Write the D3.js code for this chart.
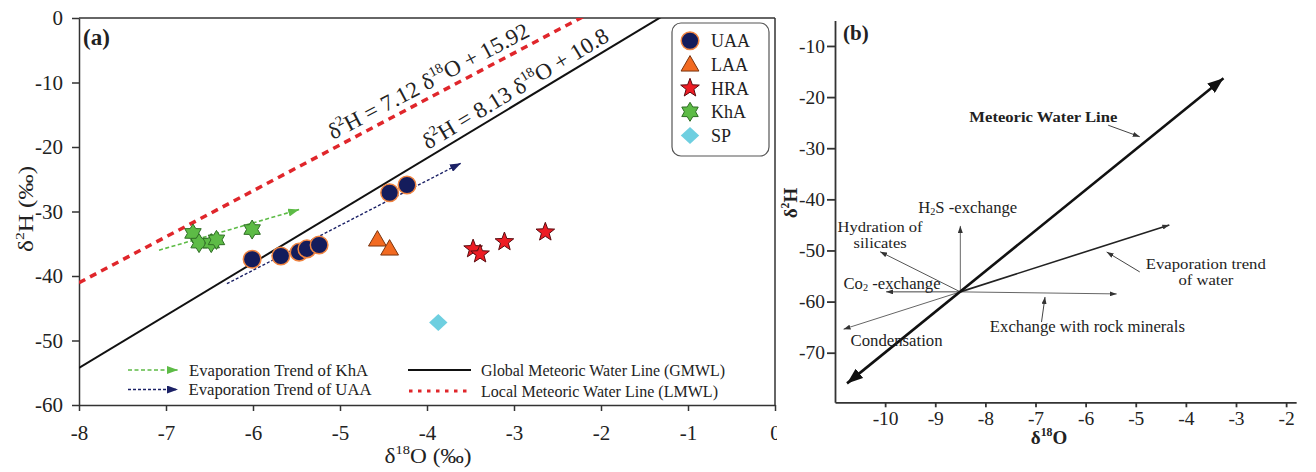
<!DOCTYPE html>
<html><head><meta charset="utf-8">
<script src="https://cdn.jsdelivr.net/npm/d3@7"></script>
<style>
body{margin:0;background:#fff}
svg{display:block}
text{font-family:"Liberation Serif","Times New Roman",serif;fill:#222}
</style>
</head><body>
<svg id="c" width="1316" height="472"></svg>
<script>
// ---------------- Panel (a) data ----------------
const uaaX = [-6.01, -5.68, -5.47, -5.38, -5.24, -4.43, -4.23];
const uaaY = [-37.4, -36.9, -36.3, -35.8, -35.2, -27.1, -25.9];
const laaX = [-4.57, -4.43];
const laaY = [-34.4, -35.8];
const hraX = [-3.47, -3.39, -3.11, -2.64];
const hraY = [-35.8, -36.6, -34.7, -33.2];
const khaX = [-6.69, -6.62, -6.48, -6.42, -6.01];
const khaY = [-33.4, -34.9, -34.9, -34.4, -32.8];
const spX = [-3.87];
const spY = [-47.2];
const gmwl = {slope: 8.13, intercept: 10.8};
const lmwl = {slope: 7.12, intercept: 15.92};
const khaTrend = [[-7.08, -36.0], [-5.47, -29.7]];
const uaaTrend = [[-6.30, -41.2], [-3.61, -22.5]];
const aXTicks = [-8, -7, -6, -5, -4, -3, -2, -1, 0];
const aYTicks = [0, -10, -20, -30, -40, -50, -60];
const seriesNames = ["UAA", "LAA", "HRA", "KhA", "SP"];

// ---------------- Panel (b) data ----------------
const bCenter = [-8.5, -58.1];
const mwlLine = [[-10.76, -76.0], [-3.25, -16.3]];
const evapEnd = [-4.33, -45.0];
const condEnd = [-10.83, -65.4];
const rockEnd = [-5.38, -58.5];
const co2End = [-9.98, -58.1];
const h2sEnd = [-8.5, -45.2];
const hydrEnd = [-10.1, -50.25];
const bXTicks = [-10, -9, -8, -7, -6, -5, -4, -3, -2];
const bYTicks = [-10, -20, -30, -40, -50, -60, -70];
const bLabels = [
  {parts: [["Meteoric Water Line"]], x: -8.32, y: -24.8, bold: true, anchor: "start", w: 148, fs: 15.5},
  {parts: [["H"], ["2", "sub"], ["S -exchange"]], x: -9.34, y: -42.7, anchor: "start", w: 99, fs: 16},
  {parts: [["Hydration of"]], x: -10.10, y: -46.4, anchor: "middle", w: 85, fs: 14.5},
  {parts: [["silicates"]], x: -10.10, y: -49.6, anchor: "middle", w: 53, fs: 14.5},
  {parts: [["Co"], ["2", "sub"], [" -exchange"]], x: -10.83, y: -57.5, anchor: "start", w: 97, fs: 16},
  {parts: [["Evaporation trend"]], x: -4.80, y: -53.6, anchor: "start", w: 120, fs: 14.5},
  {parts: [["of water"]], x: -3.60, y: -56.8, anchor: "middle", w: 55, fs: 14.5},
  {parts: [["Exchange with rock minerals"]], x: -7.91, y: -66.0, anchor: "start", w: 195, fs: 16},
  {parts: [["Condensation"]], x: -10.69, y: -68.6, anchor: "start", w: 92, fs: 16}
];
const bPointers = [
  [[-5.55, -25.5], [-4.92, -27.75]],
  [[-4.92, -54.2], [-5.58, -50.3]],
  [[-6.88, -64.0], [-6.81, -59.1]]
];

// ---------------- setup ----------------
const svg = d3.select("#c");
const defs = svg.append("defs");
function addMarker(id, color, len, wid) {
  defs.append("marker").attr("id", id)
    .attr("viewBox", `0 ${-wid/2} ${len} ${wid}`)
    .attr("refX", len).attr("refY", 0)
    .attr("markerWidth", len).attr("markerHeight", wid)
    .attr("markerUnits", "userSpaceOnUse")
    .attr("orient", "auto-start-reverse")
    .append("path").attr("d", `M0,${-wid/2}L${len},0L0,${wid/2}Z`).attr("fill", color);
}
addMarker("arG", "#5dbb46", 11, 8);
addMarker("arN", "#1b2166", 11, 8);
addMarker("arBig", "#111", 16, 12);
addMarker("arSm", "#333", 7, 5);

function rich(t, parts, size, w) {
  let shift = 0;
  parts.forEach(([s, k]) => {
    const ts = t.append("tspan").text(s);
    const target = k === "sup" ? -0.42 * size : k === "sub" ? 0.12 * size : 0;
    if (target - shift !== 0) ts.attr("dy", target - shift);
    shift = target;
    if (k) ts.attr("font-size", size * 0.62);
  });
  if (w) t.attr("textLength", w).attr("lengthAdjust", "spacingAndGlyphs");
}
function polyPath(n, rOut, rIn) {
  const pts = [];
  const m = rIn == null ? n : 2 * n;
  for (let i = 0; i < m; i++) {
    const r = rIn == null ? rOut : (i % 2 === 0 ? rOut : rIn);
    const a = -Math.PI / 2 + i * 2 * Math.PI / m;
    pts.push([r * Math.cos(a), r * Math.sin(a)]);
  }
  return "M" + pts.map(p => p[0].toFixed(2) + "," + p[1].toFixed(2)).join("L") + "Z";
}
const shapes = {
  UAA: {d: null, fill: "#141c5c", stroke: "#f08440", sw: 1.5},
  LAA: {d: polyPath(3, 10.3), fill: "#f26a21", stroke: "#7a3510", sw: 1},
  HRA: {d: polyPath(5, 9.8, 4.1), fill: "#ed1c24", stroke: "#5a0c10", sw: 1},
  KhA: {d: polyPath(6, 9.5, 5.6), fill: "#5dbb46", stroke: "#2f6e25", sw: 1},
  SP: {d: "M0,-8.5L9.2,0L0,8.5L-9.2,0Z", fill: "#6ecfe0", stroke: "none", sw: 0}
};
function drawMark(g, name, px, py) {
  const s = shapes[name];
  if (name === "UAA") {
    g.append("circle").attr("cx", px).attr("cy", py).attr("r", 8.8)
      .attr("fill", s.fill).attr("stroke", s.stroke).attr("stroke-width", s.sw);
  } else {
    g.append("path").attr("d", s.d).attr("transform", `translate(${px},${py})`)
      .attr("fill", s.fill).attr("stroke", s.stroke).attr("stroke-width", s.sw)
      .attr("stroke-linejoin", "round");
  }
}

// ---------------- Panel (a) ----------------
defs.append("clipPath").attr("id", "clipA").append("rect").attr("x", 0).attr("y", 0).attr("width", 777).attr("height", 472);
const A = svg.append("g").attr("clip-path", "url(#clipA)");
const ax = d3.scaleLinear().domain([-8, 0]).range([79, 775]);
const ay = d3.scaleLinear().domain([-60, 0]).range([405, 18]);
defs.append("clipPath").attr("id", "plotA").append("rect")
  .attr("x", ax(-8)).attr("y", ay(0)).attr("width", ax(0) - ax(-8)).attr("height", ay(-60) - ay(0));

const xAxA = A.append("g").attr("transform", `translate(0,${ay(-60)})`)
  .call(d3.axisBottom(ax).tickValues(aXTicks).tickFormat(d => String(d)).tickSize(6).tickSizeOuter(0).tickPadding(14));
const yAxA = A.append("g").attr("transform", `translate(${ax(-8)},0)`)
  .call(d3.axisLeft(ay).tickValues(aYTicks).tickFormat(d => String(d)).tickSize(7).tickSizeOuter(0).tickPadding(9));
[xAxA, yAxA].forEach(g => {
  g.selectAll("text").attr("font-size", 21).attr("font-family", "Liberation Serif").attr("fill", "#222");
  g.selectAll("line,path").attr("stroke", "#333").attr("stroke-width", 1.5);
});
A.append("line").attr("x1", ax(-8)).attr("x2", ax(0)).attr("y1", ay(0)).attr("y2", ay(0)).attr("stroke", "#333").attr("stroke-width", 1.5);
A.append("line").attr("x1", ax(0)).attr("x2", ax(0)).attr("y1", ay(0)).attr("y2", ay(-60)).attr("stroke", "#333").attr("stroke-width", 1.5);

const P = A.append("g").attr("clip-path", "url(#plotA)");
const lineGen = d3.line().x(d => ax(d[0])).y(d => ay(d[1]));
function wl(o) { return [-8, 0].map(x => [x, o.slope * x + o.intercept]); }
P.append("path").attr("d", lineGen(wl(lmwl))).attr("fill", "none").attr("stroke", "#e0262b").attr("stroke-width", 3.5).attr("stroke-dasharray", "7,5.5");
P.append("path").attr("d", lineGen(wl(gmwl))).attr("fill", "none").attr("stroke", "#111").attr("stroke-width", 2);
P.append("path").attr("d", lineGen(khaTrend)).attr("fill", "none").attr("stroke", "#5dbb46").attr("stroke-width", 1.6).attr("stroke-dasharray", "4,2.5").attr("marker-end", "url(#arG)");
P.append("path").attr("d", lineGen(uaaTrend)).attr("fill", "none").attr("stroke", "#1b2166").attr("stroke-width", 1.4).attr("stroke-dasharray", "3,2").attr("marker-end", "url(#arN)");

function eq(o, xd, off, parts, w) {
  const ang = Math.atan(o.slope * (ay(-60) - ay(0)) / 60 / ((ax(0) - ax(-8)) / 8)) * 180 / Math.PI;
  const t = A.append("text").attr("font-size", 22.5)
    .attr("transform", `translate(${ax(xd)},${ay(o.slope * xd + o.intercept)}) rotate(${-ang})`)
    .attr("y", -off);
  rich(t, parts, 22.5, w);
}
eq(lmwl, -5.04, 7.6, [["δ"], ["2", "sup"], ["H = 7.12 δ"], ["18", "sup"], ["O + 15.92"]], 224);
eq(gmwl, -3.95, 6.4, [["δ"], ["2", "sup"], ["H = 8.13 δ"], ["18", "sup"], ["O + 10.8"]], 213);

uaaX.forEach((x, i) => drawMark(P, "UAA", ax(x), ay(uaaY[i])));
laaX.forEach((x, i) => drawMark(P, "LAA", ax(x), ay(laaY[i]) + 1));
hraX.forEach((x, i) => drawMark(P, "HRA", ax(x), ay(hraY[i])));
khaX.forEach((x, i) => drawMark(P, "KhA", ax(x), ay(khaY[i])));
spX.forEach((x, i) => drawMark(P, "SP", ax(x), ay(spY[i])));

A.append("text").attr("x", 83).attr("y", 45).attr("font-size", 23).attr("font-weight", "bold").text("(a)");
const xlA = A.append("text").attr("x", 428).attr("y", 463).attr("font-size", 21).attr("text-anchor", "middle");
rich(xlA, [["δ"], ["18", "sup"], ["O (‰)"]], 21, 87);
const ylA = A.append("text").attr("transform", "translate(33,209) rotate(-90)").attr("font-size", 21).attr("text-anchor", "middle");
rich(ylA, [["δ"], ["2", "sup"], ["H (‰)"]], 21, 86);

const L = A.append("g");
L.append("rect").attr("x", 672).attr("y", 23).attr("width", 97).attr("height", 133).attr("rx", 9)
  .attr("fill", "#fff").attr("stroke", "#555").attr("stroke-width", 1.2);
seriesNames.forEach((n, i) => {
  const yy = 40.7 + i * 23.7;
  drawMark(L, n, 690, yy + (n === "LAA" ? 1.5 : 0));
  L.append("text").attr("x", 711).attr("y", yy + 6.5).attr("font-size", 18).text(n);
});

const LL = A.append("g");
function legText(x, y, size, w, s) {
  LL.append("text").attr("x", x).attr("y", y).attr("font-size", size)
    .attr("textLength", w).attr("lengthAdjust", "spacingAndGlyphs").text(s);
}
LL.append("line").attr("x1", 128).attr("x2", 178).attr("y1", 370).attr("y2", 370).attr("stroke", "#5dbb46").attr("stroke-width", 1.6).attr("stroke-dasharray", "4,2.5").attr("marker-end", "url(#arG)");
legText(189, 375.8, 17.5, 179, "Evaporation Trend of KhA");
LL.append("line").attr("x1", 128).attr("x2", 178).attr("y1", 389.5).attr("y2", 389.5).attr("stroke", "#1b2166").attr("stroke-width", 1.4).attr("stroke-dasharray", "3,2").attr("marker-end", "url(#arN)");
legText(188.5, 395.3, 17.5, 183, "Evaporation Trend of UAA");
LL.append("line").attr("x1", 408).attr("x2", 471).attr("y1", 370).attr("y2", 370).attr("stroke", "#111").attr("stroke-width", 2);
legText(481, 375.5, 17, 244, "Global Meteoric Water Line (GMWL)");
LL.append("line").attr("x1", 409).attr("x2", 467).attr("y1", 391).attr("y2", 391).attr("stroke", "#e0262b").attr("stroke-width", 3).attr("stroke-dasharray", "3.5,5.5");
legText(481, 396.5, 17, 237, "Local Meteoric Water Line (LMWL)");

// ---------------- Panel (b) ----------------
const B = svg.append("g");
const bx = d3.scaleLinear().domain([-11, -1.8]).range([835, 1296.15]);
const by = d3.scaleLinear().domain([-79.7, -5]).range([402.3, 20.4]);
const xAxB = B.append("g").attr("transform", `translate(0,${by(-79.7)})`)
  .call(d3.axisBottom(bx).tickValues(bXTicks).tickFormat(d => String(d)).tickSize(5).tickSizeOuter(0).tickPadding(3.5));
const yAxB = B.append("g").attr("transform", `translate(${bx(-11)},0)`)
  .call(d3.axisLeft(by).tickValues(bYTicks).tickFormat(d => String(d)).tickSize(8).tickSizeOuter(0).tickPadding(2));
[xAxB, yAxB].forEach(g => {
  g.selectAll("text").attr("font-size", 19.5).attr("font-family", "Liberation Serif").attr("fill", "#222");
  g.selectAll("line,path").attr("stroke", "#333").attr("stroke-width", 1.8);
});
const bl = d3.line().x(d => bx(d[0])).y(d => by(d[1]));
[[co2End, "#444"], [h2sEnd, "#666"], [hydrEnd, "#555"], [condEnd, "#666"], [rockEnd, "#666"]].forEach(([e, c]) => {
  B.append("path").attr("d", bl([bCenter, e])).attr("fill", "none").attr("stroke", c).attr("stroke-width", 1).attr("marker-end", "url(#arSm)");
});
B.append("path").attr("d", bl([bCenter, evapEnd])).attr("fill", "none").attr("stroke", "#222").attr("stroke-width", 1.6).attr("marker-end", "url(#arSm)");
B.append("path").attr("d", bl(mwlLine)).attr("fill", "none").attr("stroke", "#111").attr("stroke-width", 2.6)
  .attr("marker-end", "url(#arBig)").attr("marker-start", "url(#arBig)");
bPointers.forEach(p => B.append("path").attr("d", bl(p)).attr("fill", "none").attr("stroke", "#444").attr("stroke-width", 1).attr("marker-end", "url(#arSm)"));
bLabels.forEach(l => {
  const t = B.append("text").attr("x", bx(l.x)).attr("y", by(l.y)).attr("font-size", l.fs)
    .attr("font-weight", l.bold ? "bold" : "normal").attr("text-anchor", l.anchor);
  rich(t, l.parts, l.fs, l.w);
});
B.append("text").attr("x", 843).attr("y", 40).attr("font-size", 21).attr("font-weight", "bold").text("(b)");
const xlB = B.append("text").attr("x", 1049).attr("y", 444).attr("font-size", 19).attr("font-weight", "bold").attr("text-anchor", "middle");
rich(xlB, [["δ"], ["18", "sup"], ["O"]], 19);
const ylB = B.append("text").attr("transform", "translate(797,203) rotate(-90)").attr("font-size", 19).attr("font-weight", "bold").attr("text-anchor", "middle");
rich(ylB, [["δ"], ["2", "sup"], ["H"]], 19);
</script>
</body></html>
